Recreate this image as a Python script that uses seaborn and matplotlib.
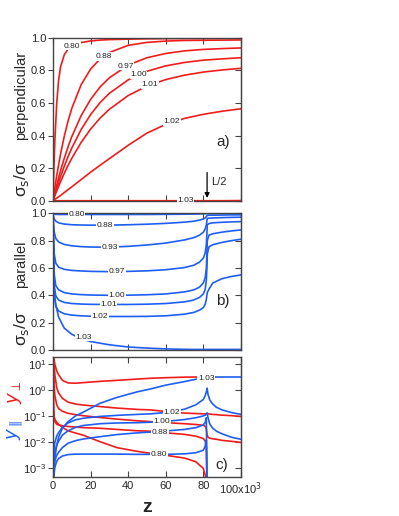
import matplotlib
matplotlib.use("Agg")
import matplotlib.pyplot as plt
import seaborn as sns
from matplotlib.ticker import NullLocator

sns.set_style("ticks")
plt.rcParams["font.family"] = ["Liberation Sans", "DejaVu Sans"]

RED = "#f01c1c"
BLUE = "#1f5ef5"
GREY = "#444444"

# ---- panel a: sigma_s/sigma perpendicular ----
z_a = [0, 0.5, 1, 2, 3, 4, 6, 8, 10, 15, 20, 25, 30, 40, 50, 60, 70, 80, 90, 100]
perp = {
    "0.80": [0, 0.2, 0.37, 0.6, 0.74, 0.82, 0.895, 0.93, 0.948, 0.97, 0.98, 0.985, 0.988, 0.991, 0.993, 0.994, 0.995, 0.995, 0.996, 0.996],
    "0.88": [0, 0.04, 0.081, 0.155, 0.22, 0.285, 0.395, 0.488, 0.566, 0.712, 0.807, 0.869, 0.909, 0.953, 0.971, 0.979, 0.983, 0.984, 0.985, 0.986],
    "0.97": [0, 0.025, 0.05, 0.096, 0.14, 0.183, 0.26, 0.33, 0.393, 0.522, 0.621, 0.697, 0.754, 0.832, 0.877, 0.903, 0.919, 0.928, 0.933, 0.937],
    "1.00": [0, 0.02, 0.039, 0.077, 0.112, 0.147, 0.211, 0.27, 0.323, 0.437, 0.528, 0.601, 0.659, 0.741, 0.794, 0.827, 0.848, 0.862, 0.870, 0.877],
    "1.01": [0, 0.015, 0.031, 0.06, 0.088, 0.116, 0.168, 0.216, 0.26, 0.358, 0.439, 0.506, 0.561, 0.645, 0.703, 0.743, 0.77, 0.789, 0.802, 0.812],
    "1.02": [0, 0.004, 0.008, 0.016, 0.024, 0.032, 0.05, 0.068, 0.085, 0.13, 0.175, 0.217, 0.258, 0.34, 0.415, 0.468, 0.505, 0.53, 0.549, 0.564],
    "1.03": [0, 0, 0, 0, 0, 0, 0, 0, 0, 0, 0, 0, 0, 0, 0, 0, 0, 0, 0, 0.001],
}
perp_labels = {"0.80": (10, 0.947), "0.88": (27, 0.885), "0.97": (38.5, 0.824),
               "1.00": (45.5, 0.773), "1.01": (51.7, 0.712), "1.02": (63.3, 0.483),
               "1.03": (70.5, 0.0)}

# ---- panel b: sigma_s/sigma parallel ----
z_b = [0, 0.3, 0.7, 1.5, 3, 6, 10, 15, 20, 30, 40, 50, 60, 70, 75, 78, 80, 81, 81.6, 81.9, 82.1, 83, 85, 90, 95, 100]
par = {
    "0.80": [1.0, 0.995, 0.993, 0.992, 0.991, 0.991, 0.991, 0.991, 0.991, 0.991, 0.991, 0.991, 0.992, 0.993, 0.994, 0.995, 0.996, 0.997, 0.998, 0.998, 0.998, 0.998, 0.998, 0.998, 0.998, 0.998],
    "0.88": [1.0, 0.975, 0.958, 0.942, 0.93, 0.921, 0.916, 0.914, 0.913, 0.913, 0.916, 0.92, 0.926, 0.935, 0.942, 0.95, 0.958, 0.966, 0.975, 0.982, 0.985, 0.986, 0.986, 0.987, 0.988, 0.988],
    "0.93": [1.0, 0.92, 0.86, 0.815, 0.79, 0.772, 0.762, 0.756, 0.753, 0.752, 0.758, 0.768, 0.782, 0.805, 0.822, 0.84, 0.862, 0.885, 0.915, 0.945, 0.962, 0.964, 0.966, 0.968, 0.97, 0.971],
    "0.97": [1.0, 0.82, 0.7, 0.635, 0.605, 0.59, 0.582, 0.578, 0.575, 0.573, 0.575, 0.579, 0.587, 0.603, 0.62, 0.643, 0.672, 0.71, 0.77, 0.85, 0.915, 0.925, 0.93, 0.934, 0.937, 0.939],
    "1.00": [1.0, 0.7, 0.55, 0.47, 0.44, 0.42, 0.41, 0.405, 0.402, 0.40, 0.401, 0.404, 0.41, 0.425, 0.44, 0.46, 0.49, 0.53, 0.6, 0.7, 0.8, 0.84, 0.85, 0.862, 0.871, 0.878],
    "1.01": [1.0, 0.62, 0.47, 0.395, 0.365, 0.348, 0.34, 0.336, 0.334, 0.333, 0.333, 0.335, 0.34, 0.352, 0.366, 0.385, 0.41, 0.445, 0.51, 0.6, 0.7, 0.755, 0.77, 0.787, 0.8, 0.81],
    "1.02": [1.0, 0.55, 0.4, 0.32, 0.285, 0.265, 0.255, 0.25, 0.247, 0.245, 0.245, 0.246, 0.25, 0.262, 0.275, 0.292, 0.31, 0.335, 0.37, 0.4, 0.42, 0.445, 0.49, 0.522, 0.538, 0.549],
    "1.03": [1.0, 0.55, 0.42, 0.33, 0.24, 0.16, 0.115, 0.082, 0.062, 0.038, 0.022, 0.014, 0.008, 0.005, 0.004, 0.004, 0.004, 0.004, 0.004, 0.004, 0.004, 0.004, 0.004, 0.004, 0.004, 0.004],
}
par_labels = {"0.80": (12.6, 0.992), "0.88": (27.7, 0.913), "0.93": (30.4, 0.752),
              "0.97": (34, 0.575), "1.00": (34, 0.40), "1.01": (29.5, 0.333),
              "1.02": (25, 0.247), "1.03": (16.2, 0.095)}

# ---- panel c: y_perp (red) and y_par (blue), log scale ----
z_c = [0, 0.3, 0.6, 1, 2, 3, 5, 8, 12, 16, 25, 34, 45, 52, 60, 70, 76, 80, 81, 81.6, 82]
z_c2 = [82, 82.5, 83.5, 85, 87, 90, 95, 100]
y_perp = {
    "1.03": [63, 28, 16, 10, 5.6, 4.0, 2.45, 1.95, 1.9, 2.0, 2.24, 2.45, 2.75, 2.95, 3.1, 3.25, 3.3, 3.35, 3.35, 3.35, 3.35],
    "1.02": [63, 20, 10, 4.0, 1.26, 0.79, 0.5, 0.355, 0.30, 0.275, 0.24, 0.21, 0.186, 0.178, 0.155, 0.135, 0.129, 0.126, 0.126, 0.126, 0.126],
    "1.00": [63, 7.9, 1.58, 0.63, 0.28, 0.2, 0.158, 0.132, 0.117, 0.107, 0.091, 0.079, 0.068, 0.063, 0.0575, 0.0525, 0.049, 0.0457, 0.0417, 0.0331, 0.020],
    "0.88": [63, 0.25, 0.1, 0.063, 0.05, 0.047, 0.044, 0.041, 0.039, 0.037, 0.035, 0.0316, 0.028, 0.027, 0.0234, 0.0204, 0.0174, 0.0141, 0.0112, 0.0063, 0.0002],
    "0.80": [63, 0.2, 0.1, 0.076, 0.06, 0.05, 0.038, 0.028, 0.023, 0.019, 0.0107, 0.0063, 0.0045, 0.0038, 0.0032, 0.0025, 0.0018, 0.001, 0.00056, 0.00025, 0.0001],
}
y_perp_after = {
    "1.02": [0.126, 0.126, 0.123, 0.12, 0.117, 0.112, 0.107, 0.1],
    "1.00": [0.020, 0.0158, 0.0145, 0.0138, 0.0132, 0.012, 0.011, 0.010],
}
y_par = {
    "1.03": [1e-4, 4e-4, 1e-3, 2.5e-3, 8e-3, 0.016, 0.035, 0.063, 0.105, 0.145, 0.32, 0.54, 0.89, 1.15, 1.6, 2.2, 2.7, 3.0, 3.15, 3.25, 3.3],
    "1.02": [1e-4, 0.0025, 0.0063, 0.01, 0.0178, 0.024, 0.038, 0.056, 0.074, 0.085, 0.1, 0.11, 0.12, 0.126, 0.141, 0.19, 0.28, 0.45, 0.63, 0.89, 1.2],
    "1.00": [1e-4, 1e-3, 2.5e-3, 4.5e-3, 7.9e-3, 0.0112, 0.019, 0.028, 0.038, 0.0447, 0.0525, 0.056, 0.0575, 0.060, 0.0646, 0.076, 0.089, 0.105, 0.112, 0.12, 0.135],
    "0.88": [1e-4, 6.3e-4, 1.26e-3, 2e-3, 3.2e-3, 4.2e-3, 6.3e-3, 9.3e-3, 0.0117, 0.0135, 0.0166, 0.02, 0.0234, 0.025, 0.0275, 0.0316, 0.037, 0.047, 0.06, 0.089, 1e-4],
    "0.80": [1e-4, 2.5e-4, 6.3e-4, 1.1e-3, 1.9e-3, 2.4e-3, 3.0e-3, 3.4e-3, 3.55e-3, 3.55e-3, 3.55e-3, 3.55e-3, 3.47e-3, 3.47e-3, 3.47e-3, 3.63e-3, 4.0e-3, 5.0e-3, 7.1e-3, 0.0126, 1e-4],
}
y_par_after = {
    "1.03": [3.3, 3.3, 3.3, 3.3, 3.3, 3.3, 3.3, 3.3],
    "1.02": [1.2, 0.7, 0.42, 0.3, 0.224, 0.178, 0.141, 0.12],
    "1.00": [0.135, 0.089, 0.05, 0.0355, 0.027, 0.0214, 0.0158, 0.0132],
}
c_labels = {"1.03": (81.5, 3.0), "1.02": (63.3, 0.148), "1.00": (58, 0.063),
            "0.88": (57, 0.0245), "0.80": (56.5, 0.0035)}

x_ticks = [0, 20, 40, 60, 80, 100]
x_ticklabels = ["0", "20", "40", "60", "80", "100x10$^3$"]


def curve(ax, x, y, color):
    sns.lineplot(x=x, y=y, ax=ax, color=color, lw=1.2, estimator=None,
                 sort=False, legend=False)


def tag(ax, x, y, s):
    ax.text(x, y, s, fontsize=6, ha="center", va="center", color="#222222",
            zorder=6, bbox=dict(facecolor="white", edgecolor="none", pad=0.4))


def style(ax, yticks, log=False):
    ax.set_xlim(0, 100)
    ax.set_xticks(x_ticks)
    ax.tick_params(axis="x", direction="in", top=True, bottom=True, length=4,
                   width=0.8, color=GREY, labelsize=8, pad=3)
    ax.tick_params(axis="y", direction="out", left=True, right=False, length=3.5,
                   width=0.8, color=GREY, labelsize=8, pad=1.5)
    ax.set_yticks(yticks)
    if log:
        ax.yaxis.set_minor_locator(NullLocator())
    for sp in ax.spines.values():
        sp.set_color(GREY)
        sp.set_linewidth(1.0)
    sec = ax.secondary_yaxis("right")
    sec.set_yticks(yticks)
    if log:
        sec.yaxis.set_minor_locator(NullLocator())
    sec.tick_params(direction="in", length=4, width=0.8, color=GREY, labelright=False)
    sec.spines["right"].set_color(GREY)
    ax.set_ylabel("")
    ax.set_xlabel("")


fig = plt.figure(figsize=(3.99, 5.16), dpi=100)
ax_a = fig.add_axes([0.1328, 0.611, 0.471, 0.316])
ax_b = fig.add_axes([0.1328, 0.3217, 0.471, 0.265])
ax_c = fig.add_axes([0.1328, 0.0762, 0.471, 0.2326])

# panel a
for k, v in perp.items():
    curve(ax_a, z_a, v, RED)
for k, (x, y) in perp_labels.items():
    tag(ax_a, x, y, k)
ax_a.set_ylim(0, 1.0)
style(ax_a, [0, 0.2, 0.4, 0.6, 0.8, 1.0])
ax_a.tick_params(axis="x", labelbottom=False)
ax_a.annotate("", xy=(82, 0.0), xytext=(82, 0.19),
              arrowprops=dict(arrowstyle="-|>", color="black", lw=0.9, mutation_scale=7))
ax_a.text(84, 0.115, "L/2", fontsize=8, ha="left", va="center")
ax_a.text(90.5, 0.36, "a)", fontsize=11, ha="center", va="center")
ax_a.text(-0.17, 0.13, "σ$_{\\rm s}$/σ", transform=ax_a.transAxes, rotation=90,
          fontsize=12.5, ha="center", va="center")
ax_a.text(-0.17, 0.645, "perpendicular", transform=ax_a.transAxes, rotation=90,
          fontsize=10.5, ha="center", va="center")

# panel b
for k, v in par.items():
    curve(ax_b, z_b, v, BLUE)
for k, (x, y) in par_labels.items():
    tag(ax_b, x, y, k)
ax_b.set_ylim(0, 1.0)
style(ax_b, [0, 0.2, 0.4, 0.6, 0.8, 1.0])
ax_b.tick_params(axis="x", labelbottom=False)
ax_b.text(90.5, 0.36, "b)", fontsize=11, ha="center", va="center")
ax_b.text(-0.17, 0.16, "σ$_{\\rm s}$/σ", transform=ax_b.transAxes, rotation=90,
          fontsize=12.5, ha="center", va="center")
ax_b.text(-0.17, 0.625, "parallel", transform=ax_b.transAxes, rotation=90,
          fontsize=10.5, ha="center", va="center")

# panel c
ax_c.set_yscale("log")
for k, v in y_perp.items():
    curve(ax_c, z_c, v, RED)
for k, v in y_perp_after.items():
    curve(ax_c, z_c2, v, RED)
for k, v in y_par.items():
    curve(ax_c, z_c, v, BLUE)
for k, v in y_par_after.items():
    curve(ax_c, z_c2, v, BLUE)
for k, (x, y) in c_labels.items():
    tag(ax_c, x, y, k)
ax_c.set_ylim(4.8e-4, 20)
style(ax_c, [1e-3, 1e-2, 1e-1, 1, 10], log=True)
ax_c.set_xticklabels(x_ticklabels)
ax_c.text(90, 10 ** -2.87, "c)", fontsize=11, ha="center", va="center")
ax_c.text(-0.2, 0.70, "$y_\\perp$", transform=ax_c.transAxes, rotation=90,
          fontsize=13, color=RED, ha="center", va="center")
ax_c.text(-0.2, 0.39, "$y_\\parallel$", transform=ax_c.transAxes, rotation=90,
          fontsize=13, color=BLUE, ha="center", va="center")
ax_c.set_xlabel("z", fontsize=14, fontweight="bold", labelpad=1)

fig.savefig("out.png", dpi=100)
